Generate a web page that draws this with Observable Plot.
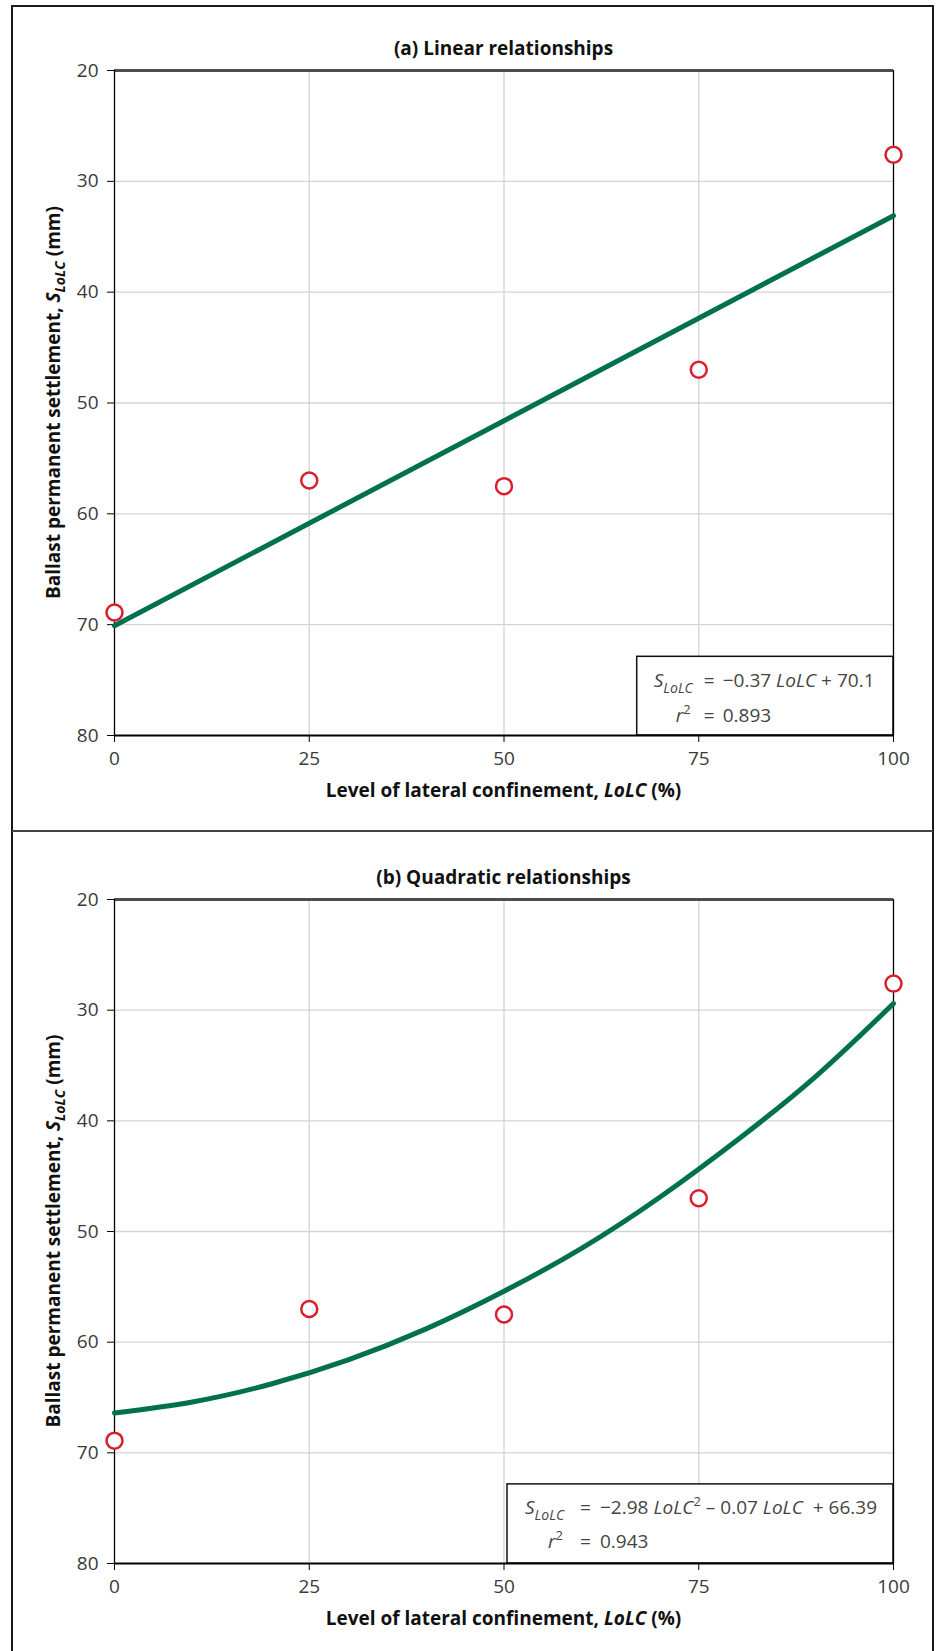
<!DOCTYPE html>
<html>
<head>
<meta charset="utf-8">
<script src="https://cdn.jsdelivr.net/npm/d3@7"></script>
<script src="https://cdn.jsdelivr.net/npm/@observablehq/plot@0.6"></script>
<style>
  html, body { margin: 0; padding: 0; background: #fff; }
  #wrap { position: relative; width: 938px; height: 1651px; overflow: hidden; background: #fff; }
  #frame { position: absolute; left: 11px; top: 5px; width: 923px; height: 1700px; border: 2px solid #1a1a1a; box-sizing: border-box; }
  #divider { position: absolute; left: 12px; top: 830px; width: 921px; height: 2px; background: #444; }
  .panel { position: absolute; left: 0; }
  svg text { white-space: pre; }
</style>
</head>
<body>
<div id="wrap">
  <div id="frame"></div>
  <div id="divider"></div>
  <div id="pa" class="panel" style="top:0px"></div>
  <div id="pb" class="panel" style="top:831px"></div>
</div>
<script>
// ---- data ----
const xTicks = [0, 25, 50, 75, 100];
const yTicks = [20, 30, 40, 50, 60, 70, 80];
const loLC = [0, 25, 50, 75, 100];
const settlement = [68.9, 57.0, 57.5, 47.0, 27.6];

const linearFitX = [0, 100];
const linearFitY = [70.1, 33.1];

const quadFitX = [0, 10, 20, 30, 40, 50, 60, 70, 80, 90, 100];
const quadFitY = [66.4, 65.4, 63.8, 61.6, 58.8, 55.4, 51.5, 46.9, 41.7, 36.0, 29.4];

const titles = ["(a) Linear relationships", "(b) Quadratic relationships"];
const r2Values = ["0.893", "0.943"];
const boxLeft = [67.1, 50.45];
const boxTop = [72.9, 72.85];

const GREEN = "#00704f";
const RED = "#d9202a";
const FS = 19;

function addTspans(textSel, parts) {
  parts.forEach(p => {
    const t = textSel.append("tspan").text(p.t);
    if (p.i) t.attr("font-style", "italic");
    if (p.b) t.attr("font-weight", "bold");
    if (p.fs) t.attr("font-size", p.fs);
    if (p.dy) t.attr("dy", p.dy);
  });
}

function panel(el, idx, fitX, fitY, cfg) {
  const plot = Plot.plot({
    width: 938,
    height: cfg.height,
    marginLeft: 114,
    marginRight: 45,
    marginTop: cfg.mt,
    marginBottom: cfg.mb,
    style: { fontFamily: "Open Sans", fontSize: FS + "px", background: "transparent", overflow: "visible" },
    x: { domain: [0, 100], label: null },
    y: { domain: [20, 80], reverse: true, label: null },
    marks: [
      Plot.gridX(xTicks.slice(1, -1), { stroke: "#d4d4d4", strokeOpacity: 1, strokeWidth: 1.3 }),
      Plot.gridY(yTicks.slice(1, -1), { stroke: "#d4d4d4", strokeOpacity: 1, strokeWidth: 1.3 }),
      Plot.rect([0], { x1: () => boxLeft[idx], x2: () => 100, y1: () => boxTop[idx], y2: () => 80, fill: "white", stroke: "#111", strokeWidth: 1.5 }),
      Plot.ruleY([20], { stroke: "#4d4d4d", strokeWidth: 3 }),
      Plot.ruleX([0], { stroke: "#000", strokeWidth: 1.3 }),
      Plot.ruleX([100], { stroke: "#000", strokeWidth: 1.3 }),
      Plot.ruleY([80], { stroke: "#000", strokeWidth: 2 }),
      Plot.axisX(xTicks, { tickSize: 7, tickPadding: 9, fill: "#3a3a3a", stroke: "#000", label: null, fontSize: FS }),
      Plot.axisY(yTicks, { tickSize: 7, tickPadding: 9, fill: "#3a3a3a", stroke: "#000", label: null, fontSize: FS }),
      Plot.line(fitX.map((d, i) => i), { x: i => fitX[i], y: i => fitY[i], stroke: GREEN, strokeWidth: 5, curve: "natural" }),
      Plot.dot(loLC.map((d, i) => i), { x: i => loLC[i], y: i => settlement[i], r: 8, stroke: RED, strokeWidth: 2.5, fill: "white" })
    ]
  });
  el.appendChild(plot);
  const svg = d3.select(plot);
  const xs = plot.scale("x"), ys = plot.scale("y");
  const x0 = xs.apply(0), x1 = xs.apply(100);
  const yTop = ys.apply(20), yBot = ys.apply(80);

  // title
  svg.append("text").attr("x", (x0 + x1) / 2).attr("y", yTop - 22).attr("dy", "0.35em")
    .attr("text-anchor", "middle").attr("font-weight", "bold").attr("font-size", FS).attr("fill", "#111")
    .text(titles[idx]);

  // x label
  const xl = svg.append("text").attr("x", (x0 + x1) / 2).attr("y", yBot + 55).attr("dy", "0.35em")
    .attr("text-anchor", "middle").attr("font-weight", "bold").attr("font-size", FS).attr("fill", "#111");
  addTspans(xl, [{ t: "Level of lateral confinement, " }, { t: "LoLC", i: 1 }, { t: " (%)" }]);

  // y label
  const yl = svg.append("text").attr("transform", `translate(53,${(yTop + yBot) / 2}) rotate(-90)`)
    .attr("dy", "0.35em").attr("text-anchor", "middle").attr("font-weight", "bold").attr("font-size", FS).attr("fill", "#111");
  addTspans(yl, [{ t: "Ballast permanent settlement, " }, { t: "S", i: 1 }, { t: "LoLC", i: 1, fs: 14, dy: "5" }, { t: " (mm)", dy: "-5" }]);

  // equation box text
  const o = cfg.off;
  const bx = xs.apply(boxLeft[idx]), by = ys.apply(boxTop[idx]);
  const g = svg.append("g").attr("fill", "#444").attr("font-size", FS).attr("text-anchor", "start");
  const l1 = g.append("text").attr("x", bx + o.s).attr("y", by + o.b1);
  addTspans(l1, [{ t: "S", i: 1 }, { t: "LoLC", i: 1, fs: 14, dy: "6" }]);
  g.append("text").attr("x", bx + o.eq).attr("y", by + o.b1).text("=");
  const r1 = g.append("text").attr("x", bx + o.rhs).attr("y", by + o.b1);
  r1.call(cfg.rhs);
  const l2 = g.append("text").attr("x", bx + o.r).attr("y", by + o.b2);
  addTspans(l2, [{ t: "r", i: 1 }, { t: "2", fs: 13, dy: "-8" }]);
  g.append("text").attr("x", bx + o.eq).attr("y", by + o.b2).text("=");
  g.append("text").attr("x", bx + o.rhs).attr("y", by + o.b2).text(r2Values[idx]);
}

panel(document.getElementById("pa"), 0, linearFitX, linearFitY, {
  height: 831, mt: 70, mb: 96,
  off: { s: 17, eq: 67, rhs: 86, r: 39, b1: 31, b2: 66 },
  rhs: t => addTspans(t, [{ t: "\u22120.37 " }, { t: "LoLC", i: 1 }, { t: " + 70.1" }])
});
panel(document.getElementById("pb"), 1, quadFitX, quadFitY, {
  height: 820, mt: 68, mb: 88,
  off: { s: 18, eq: 73, rhs: 93, r: 41, b1: 30, b2: 64 },
  rhs: t => addTspans(t, [{ t: "\u22122.98 " }, { t: "LoLC", i: 1 }, { t: "2", fs: 13, dy: "-8" }, { t: " \u2013 0.07 ", dy: "8" }, { t: "LoLC", i: 1 }, { t: "  + 66.39" }])
});
</script>
</body>
</html>
